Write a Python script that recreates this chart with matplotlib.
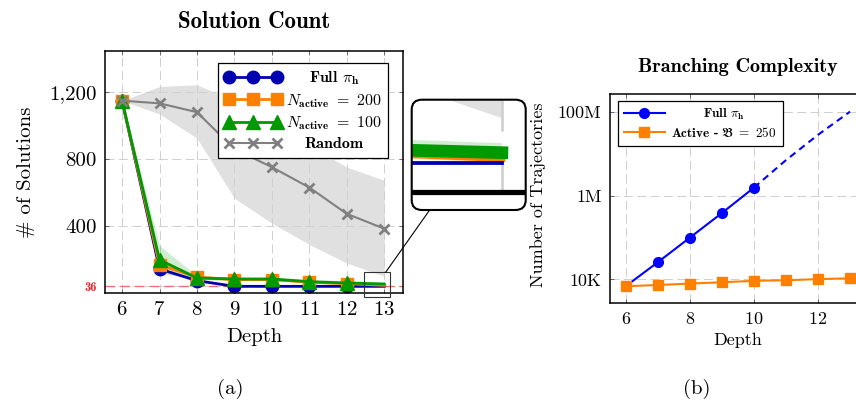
import matplotlib
matplotlib.use('Agg')
import matplotlib.pyplot as plt
from matplotlib.patches import FancyBboxPatch, Rectangle
from matplotlib.lines import Line2D
from matplotlib.transforms import IdentityTransform

plt.rcParams['font.family'] = ['cmr10', 'DejaVu Serif']
plt.rcParams['mathtext.fontset'] = 'cm'
plt.rcParams['axes.formatter.use_mathtext'] = True
plt.rcParams['lines.scale_dashes'] = False

# ---------------- data: (a) Solution Count ----------------
depth_a = [6, 7, 8, 9, 10, 11, 12, 13]
full_counts = [1150, 140, 70, 36, 36, 36, 36, 36]
active200_counts = [1150, 165, 92, 76, 76, 61, 52, 42]
active100_counts = [1150, 195, 86, 80, 80, 64, 56, 50]
random_counts = [1150, 1134, 1081, 860, 751, 629, 471, 382]
random_low = [1150, 1070, 925, 565, 415, 287, 176, 97]
random_high = [1150, 1235, 1245, 1150, 1010, 880, 751, 672]
active200_low = [1150, 110, 80, 70, 70, 55, 46, 36]
active200_high = [1150, 205, 100, 82, 82, 67, 58, 48]
active100_low = [1150, 120, 76, 72, 72, 56, 48, 40]
active100_high = [1150, 280, 100, 92, 92, 76, 71, 63]
optimum = 36
yticks_a = [36, 400, 800, 1200]
ytick_labels_a = ['36', '400', '800', '1,200']
labels_a = [r'Full $\pi_{\mathbf{h}}$', r'$N_{\mathbf{active}}\ =\ 200$',
            r'$N_{\mathbf{active}}\ =\ 100$', 'Random']

# ---------------- data: (b) Branching Complexity ----------------
depth_full = [6, 7, 8, 9, 10]
full_traj = [7000, 26000, 100000, 385000, 1550000]
depth_extrap = [10, 11, 12, 13]
full_traj_extrap = [1550000, 7000000, 28000000, 100000000]
depth_b = [6, 7, 8, 9, 10, 11, 12, 13]
active_traj = [6900, 7400, 8000, 8600, 9300, 9600, 10200, 10700]
yticks_b = [1e4, 1e6, 1e8]
ytick_labels_b = ['10K', '1M', '100M']
xticks_b = [6, 8, 10, 12]
labels_b = [r'Full $\pi_{\mathbf{h}}$', r'Active - $\mathfrak{B}\ =\ \mathbf{250}$']

# ---------------- style ----------------
BLUE_A = '#0000b0'
BLUE_B = '#0000ff'
ORANGE = '#ff8000'
GREEN = '#009900'
GRAY = '#808080'
BAND = '#e0e0e0'
GRIDC = '#cfcfcf'
GRID_DASH = (0, (6.5, 3.1))
SPINE_LW = 1.1
LW = 2.0
MAG = 4.56

W, H = 856, 400
fig = plt.figure(figsize=(W / 100, H / 100), dpi=100)


def px_axes(l, t, r, b):
    return fig.add_axes([l / W, 1 - b / H, (r - l) / W, (b - t) / H])


def style_axes(a, fs):
    a.set_axisbelow(True)
    a.grid(True, color=GRIDC, lw=0.7, linestyle=GRID_DASH)
    a.tick_params(direction='in', length=3, width=0.6, color='#555555',
                  top=True, right=True, labelsize=fs, pad=6)
    a.minorticks_off()
    for s in a.spines.values():
        s.set_linewidth(SPINE_LW)


def center_legend_texts(leg):
    fig.canvas.draw()
    r = fig.canvas.get_renderer()
    texts = leg.get_texts()
    widths = [t.get_window_extent(r).width for t in texts]
    m = max(widths)
    for t, w in zip(texts, widths):
        t.set_position(((m - w) / 2, 0))


# ================= (a) =================
ax = px_axes(105, 51, 403, 293)
ax.set_xlim(5.545, 13.5)
ax.set_ylim(-4, 1448)
style_axes(ax, 15)
ax.set_xticks(depth_a)
ax.set_yticks(yticks_a)
ax.set_yticklabels(ytick_labels_a)
lab36 = ax.get_yticklabels()[0]
lab36.set_color('#e8202a')
lab36.set_fontsize(9)
lab36.set_fontfamily('cmb10')

ax.fill_between(depth_a, random_low, random_high, color=BAND, lw=0, zorder=0.3)
ax.fill_between(depth_a, active200_low, active200_high, color=ORANGE, alpha=0.18, lw=0, zorder=1.2)
ax.fill_between(depth_a, active100_low, active100_high, color=GREEN, alpha=0.18, lw=0, zorder=1.3)
ax.axhline(optimum, color='#f07070', lw=1.0, linestyle=(0, (7, 3.6)), zorder=1.0)

mk = slice(0, len(depth_a) - 1)
h_full, = ax.plot(depth_a, full_counts, color=BLUE_A, lw=LW, marker='o', ms=9,
                  markevery=mk, zorder=2.0)
h_200, = ax.plot(depth_a, active200_counts, color=ORANGE, lw=LW, marker='s', ms=8.5,
                 markevery=mk, zorder=2.1)
h_100, = ax.plot(depth_a, active100_counts, color=GREEN, lw=LW, marker='^', ms=10,
                 markevery=mk, zorder=2.2)
h_rand, = ax.plot(depth_a, random_counts, color=GRAY, lw=1.5, marker='x', ms=6.5,
                  mew=2, zorder=2.3)

ax.set_xlabel('Depth', fontsize=15)
ax.xaxis.set_label_coords(0.5, -0.145)
ax.set_ylabel('# of Solutions', fontsize=15)
ax.yaxis.set_label_coords(-0.235, 0.5)

leg_a = ax.legend([h_full, h_200, h_100, h_rand], labels_a, loc='upper right',
                  bbox_to_anchor=(0.95, 0.95), borderaxespad=0, numpoints=3,
                  handlelength=3.6, labelspacing=0.3, borderpad=0.4,
                  handletextpad=0.3, fancybox=False, framealpha=1,
                  edgecolor='black', prop={'family': 'cmb10', 'size': 11.5})
leg_a.get_frame().set_linewidth(0.9)
leg_a.set_zorder(6)

# ---- spy inset ----
zoom_x = (12.47, 13.14)
zoom_y = (-28, 122)
ins = px_axes(411.7, 99.7, 525.7, 210)
ins.set_xlim(*zoom_x)
ins.set_ylim(*zoom_y)
ins.axis('off')
clip = FancyBboxPatch((0, 0), 1, 1, boxstyle='round,pad=0,rounding_size=0.09',
                      transform=ins.transAxes)
arts = []
arts.append(ins.fill_between(depth_a, random_low, random_high, color=BAND, lw=0, zorder=0.3))
y0 = ax.get_ylim()[0]
arts.append(ins.axvline(13, ymin=(y0 - zoom_y[0]) / (zoom_y[1] - zoom_y[0]), ymax=1,
                        color=GRIDC, lw=0.7 * MAG * 0.6,
                        linestyle=(0, (6.5 * MAG, 3.1 * MAG)), zorder=0.5))
arts.append(ins.fill_between(depth_a, active200_low, active200_high, color=ORANGE, alpha=0.18, lw=0, zorder=1.2))
arts.append(ins.fill_between(depth_a, active100_low, active100_high, color=GREEN, alpha=0.18, lw=0, zorder=1.3))
arts += ins.plot(depth_a, full_counts, color=BLUE_A, lw=LW * MAG * 0.3, zorder=2.3)
arts += ins.plot(depth_a, active200_counts, color=ORANGE, lw=LW * MAG * 0.55, zorder=2.1)
arts += ins.plot(depth_a, active100_counts, color=GREEN, lw=LW * MAG, zorder=2.2)
arts.append(ins.axhspan(zoom_y[0], y0, color='white', lw=0, zorder=3))
arts.append(ins.axhline(y0, color='black', lw=SPINE_LW * MAG * 0.75, zorder=3.1))
for a_ in arts:
    a_.set_clip_path(clip)
frame = FancyBboxPatch((0, 0), 1, 1, boxstyle='round,pad=0,rounding_size=0.09',
                       transform=ins.transAxes, fill=False, ec='black', lw=1.5,
                       clip_on=False, zorder=10)
ins.add_patch(frame)

rect = Rectangle((zoom_x[0], zoom_y[0]), zoom_x[1] - zoom_x[0], zoom_y[1] - zoom_y[0],
                 fill=False, ec='#333333', lw=0.8, clip_on=False, zorder=5)
ax.add_patch(rect)

# connector between spy rectangle and inset (centre-to-centre, clipped)
p0 = ax.transData.transform((zoom_x[0], zoom_y[0]))
p1 = ax.transData.transform((zoom_x[1], zoom_y[1]))
q0 = ins.transAxes.transform((0, 0))
q1 = ins.transAxes.transform((1, 1))
rc = (p0 + p1) / 2
ic = (q0 + q1) / 2
d = ic - rc
t_out = min(abs((p1[0] - p0[0]) / 2 / d[0]), abs((p1[1] - p0[1]) / 2 / d[1]))
t_in = 1 - min(abs((q1[0] - q0[0]) / 2 / d[0]), abs((q1[1] - q0[1]) / 2 / d[1]))
a0 = rc + t_out * d
a1 = rc + t_in * d
fig.add_artist(Line2D([a0[0], a1[0]], [a0[1], a1[1]], transform=IdentityTransform(),
                      color='black', lw=0.8))

fig.text(254 / W, 1 - 28 / H, 'Solution Count', family='cmb10', fontsize=16.5,
         ha='center', va='baseline')
fig.text(230 / W, 1 - 394 / H, '(a)', fontsize=15, ha='center', va='baseline')

# ================= (b) =================
bx = px_axes(610, 94, 866, 303)
bx.set_yscale('log')
bx.set_xlim(5.5, 13.5)
bx.set_ylim(10 ** 3.44, 10 ** 8.42)
style_axes(bx, 13)
bx.set_xticks(xticks_b)
bx.set_yticks(yticks_b)
bx.set_yticklabels(ytick_labels_b)
bx.minorticks_off()

hb_full, = bx.plot(depth_full, full_traj, color=BLUE_B, lw=1.5, marker='o', ms=7, zorder=2)
bx.plot(depth_extrap, full_traj_extrap, color=BLUE_B, lw=1.5, linestyle=(0, (5, 3.5)), zorder=2)
hb_act, = bx.plot(depth_b, active_traj, color=ORANGE, lw=1.5, marker='s', ms=6.5, zorder=3)

bx.set_xlabel('Depth', fontsize=13)
bx.xaxis.set_label_coords(0.5, -0.144)
bx.set_ylabel('Number of Trajectories', fontsize=13)
bx.yaxis.set_label_coords(-0.25, 0.52)

leg_b = bx.legend([hb_full, hb_act], labels_b, loc='upper left',
                  bbox_to_anchor=(0.031, 0.967), borderaxespad=0, numpoints=1,
                  handlelength=3.1, labelspacing=0.3, borderpad=0.45,
                  handletextpad=0.5, fancybox=False, framealpha=1,
                  edgecolor='black', prop={'family': 'cmb10', 'size': 9.5})
leg_b.get_frame().set_linewidth(0.9)

fig.text(738 / W, 1 - 71.7 / H, 'Branching Complexity', family='cmb10', fontsize=14.5,
         ha='center', va='baseline')
fig.text(697 / W, 1 - 394 / H, '(b)', fontsize=15, ha='center', va='baseline')

center_legend_texts(leg_a)
center_legend_texts(leg_b)

fig.savefig('out.png', dpi=100)
